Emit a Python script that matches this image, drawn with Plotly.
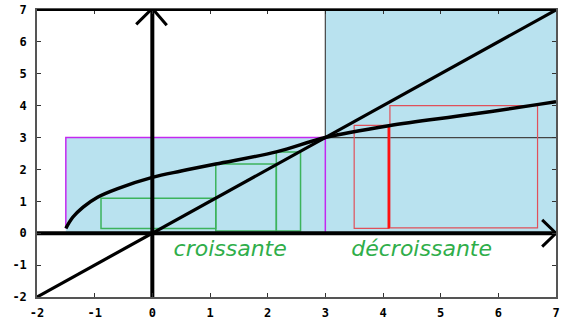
import plotly.graph_objects as go

# f(x) sampled along the curve
curve_x = [-1.5, -1.38, -1.2, -0.95, -0.6, 0.0, 0.5, 1.1, 2.15, 3.0, 4.1, 5.5, 6.7, 7.0]
curve_y = [0.15, 0.50, 0.82, 1.13, 1.40, 1.75, 1.95, 2.17, 2.55, 3.0, 3.37, 3.72, 4.04, 4.12]

# cobweb steps (increasing side, green)
green_left = [-0.89, 1.1, 2.15]
green_right = [1.1, 2.15, 2.57]
green_top = [1.1, 2.17, 2.55]
green_bottom = [0.15, 0.07, 0.07]

# cobweb steps (decreasing side, red)
red_left = [3.5, 4.12]
red_right = [4.1, 6.68]
red_top = [3.38, 4.0]
red_bottom = [0.15, 0.17]

# shaded domains
dom1 = dict(x0=-1.5, x1=3.0, y0=0.0, y1=3.0)
dom2 = dict(x0=3.0, x1=7.0, y0=0.0, y1=7.0)

x_ticks = list(range(-2, 8))
y_ticks = list(range(-2, 8))
tick_text_x = [f"<b>{v}</b>" for v in x_ticks]
tick_text_y = [f"<b>{v}</b>" for v in y_ticks]

labels = ["croissante", "décroissante"]
label_x = [1.35, 4.67]
label_y = [-0.55, -0.55]

BLUE = "#b9e2ef"
MAGENTA = "#c428f0"
GREEN = "#3cb35c"
RED = "#e0505a"

fig = go.Figure()
shapes = []
shapes.append(dict(type="rect", xref="x", yref="y", **dom1, fillcolor=BLUE,
                   line=dict(width=0), layer="below"))
shapes.append(dict(type="rect", xref="x", yref="y", **dom2, fillcolor=BLUE,
                   line=dict(width=0), layer="below"))
# magenta outline of first domain
shapes.append(dict(type="path", xref="x", yref="y", layer="below",
                   path=f"M{dom1['x0']},{curve_y[0]} L{dom1['x0']},{dom1['y1']} "
                        f"L{dom1['x1']},{dom1['y1']} L{dom1['x1']},{dom1['y0']}",
                   line=dict(color=MAGENTA, width=1.5)))
# grey outline of second domain
shapes.append(dict(type="path", xref="x", yref="y", layer="below",
                   path=f"M{dom2['x0']},{dom2['y1']} L{dom2['x0']},{dom1['y1']} "
                        f"L{dom2['x1']},{dom1['y1']}",
                   line=dict(color="#444444", width=1.2)))
for l, r, t, b in zip(green_left, green_right, green_top, green_bottom):
    shapes.append(dict(type="rect", xref="x", yref="y", x0=l, x1=r, y0=b, y1=t,
                       line=dict(color=GREEN, width=1.5), layer="below"))
for l, r, t, b in zip(red_left, red_right, red_top, red_bottom):
    shapes.append(dict(type="rect", xref="x", yref="y", x0=l, x1=r, y0=b, y1=t,
                       line=dict(color=RED, width=1.2), layer="below"))
# emphasised red step
shapes.append(dict(type="line", xref="x", yref="y", x0=red_right[0], x1=red_right[0],
                   y0=red_bottom[0], y1=red_top[0], line=dict(color="#ff1010", width=2.5),
                   layer="below"))
# top frame edge
shapes.append(dict(type="line", xref="paper", yref="paper", x0=0, x1=1, y0=1, y1=1,
                   line=dict(color="black", width=2), layer="above"))

# y = x
fig.add_trace(go.Scatter(x=[x_ticks[0], x_ticks[-1]], y=[y_ticks[0], y_ticks[-1]],
                         mode="lines", line=dict(color="black", width=3.2)))
# curve
fig.add_trace(go.Scatter(x=curve_x, y=curve_y, mode="lines", line_shape="spline",
                         line=dict(color="black", width=3.5, smoothing=1.0)))
# axes with chevron arrows
xmin, xmax = x_ticks[0], x_ticks[-1]
ymin, ymax = y_ticks[0], y_ticks[-1]
fig.add_trace(go.Scatter(x=[xmin, xmax], y=[0, 0], mode="lines",
                         line=dict(color="black", width=4), cliponaxis=False))
fig.add_trace(go.Scatter(x=[0, 0], y=[ymin, ymax], mode="lines",
                         line=dict(color="black", width=4), cliponaxis=False))
ax_dx, ax_dy = 0.24, 0.42
fig.add_trace(go.Scatter(x=[xmax - ax_dx, xmax, xmax - ax_dx], y=[ax_dy, 0, -ax_dy],
                         mode="lines", line=dict(color="black", width=3), cliponaxis=False))
fig.add_trace(go.Scatter(x=[-0.28, 0, 0.25], y=[ymax - 0.45, ymax + 0.05, ymax - 0.48],
                         mode="lines", line=dict(color="black", width=3), cliponaxis=False))

fig.add_trace(go.Scatter(x=label_x, y=label_y, mode="text", text=labels,
                         textfont=dict(family="DejaVu Sans", size=22, color="#2fae4a",
                                       style="italic")))

axis_common = dict(showgrid=False, zeroline=False, showline=True, linecolor="#555555",
                   linewidth=1.5, mirror="ticks", ticks="inside", ticklen=4,
                   tickwidth=1, tickcolor="#333333", automargin=False,
                   tickfont=dict(family="DejaVu Sans Mono", size=12, color="black"))
fig.update_layout(
    width=561, height=320,
    margin=dict(l=37, r=5, t=10, b=23),
    plot_bgcolor="white", paper_bgcolor="white",
    showlegend=False,
    shapes=shapes,
    xaxis=dict(range=[xmin, xmax], tickvals=x_ticks, ticktext=tick_text_x,
               ticklabelstandoff=4, **axis_common),
    yaxis=dict(range=[ymin, ymax], tickvals=y_ticks, ticktext=tick_text_y,
               ticklabelstandoff=6, **axis_common),
)
fig.write_html("out.html")
